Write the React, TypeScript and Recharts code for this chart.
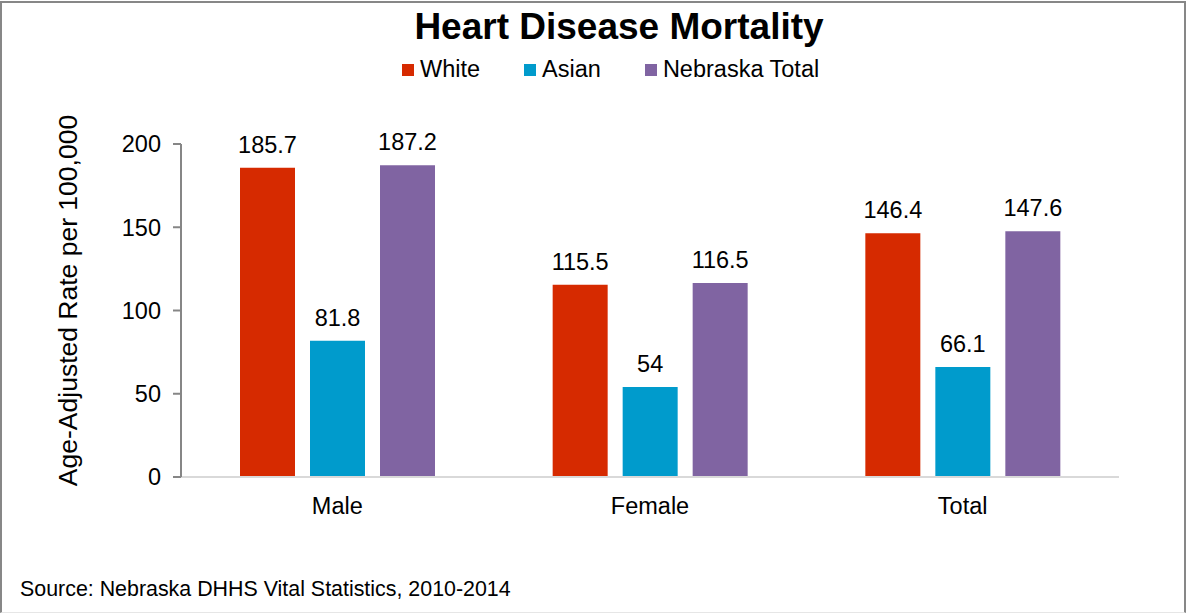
import { Bar, BarChart, LabelList, Legend, XAxis, YAxis } from "recharts";

const categories = ["Male", "Female", "Total"];
const seriesNames = ["White", "Asian", "Nebraska Total"];
const whiteRates = [185.7, 115.5, 146.4];
const asianRates = [81.8, 54, 66.1];
const nebraskaRates = [187.2, 116.5, 147.6];
const yTicks = [0, 50, 100, 150, 200];

const data = categories.map((name, i) => ({
  name,
  white: whiteRates[i],
  asian: asianRates[i],
  nebraska: nebraskaRates[i],
}));

const FONT = '"Liberation Sans", Arial, sans-serif';
const LABEL_SIZE = 23.5;

function LegendContent({ payload }: any) {
  const items = [...(payload || [])].sort(
    (a: any, b: any) => seriesNames.indexOf(a.value) - seriesNames.indexOf(b.value)
  );
  return (
    <div
      style={{
        display: "flex",
        alignItems: "center",
        fontFamily: FONT,
        fontSize: LABEL_SIZE,
        color: "#000",
        whiteSpace: "nowrap",
      }}
    >
      {items.map((p: any, i: number) => (
        <div
          key={p.value}
          style={{ display: "flex", alignItems: "center", marginRight: i < items.length - 1 ? 44 : 0 }}
        >
          <span style={{ display: "inline-block", width: 12, height: 12, background: p.color, marginRight: 6 }} />
          <span>{p.value}</span>
        </div>
      ))}
    </div>
  );
}

function YLabel(props: any) {
  const vb = props.viewBox || { x: 0, y: 0, width: 0, height: 0 };
  const cx = vb.x + 77;
  const cy = vb.y + vb.height / 2 - 10;
  return (
    <text
      x={cx}
      y={cy}
      transform={`rotate(-90 ${cx} ${cy})`}
      textAnchor="middle"
      fontFamily={FONT}
      fontSize={26.5}
      fill="#000"
    >
      Age-Adjusted Rate per 100,000
    </text>
  );
}

export default function App() {
  const tickStyle = { fill: "#000", fontSize: LABEL_SIZE, fontFamily: FONT };
  return (
    <div style={{ position: "absolute", left: 0, top: 0, width: 1187, height: 614, background: "#fff" }}>
      <div
        style={{
          position: "absolute",
          left: 319,
          top: 8,
          width: 600,
          textAlign: "center",
          fontFamily: FONT,
          fontWeight: "bold",
          fontSize: 37,
          lineHeight: "37px",
          color: "#000",
          whiteSpace: "nowrap",
        }}
      >
        Heart Disease Mortality
      </div>
      <BarChart
        width={1187}
        height={614}
        data={data}
        margin={{ top: 144, right: 68, bottom: 97, left: 0 }}
        barSize={55}
        barGap={15}
      >
        <XAxis
          dataKey="name"
          height={40}
          axisLine={{ stroke: "#d9d9d9", strokeWidth: 2 }}
          tickLine={false}
          tickSize={8}
          tickMargin={12}
          tick={tickStyle}
        />
        <YAxis
          width={181}
          domain={[0, 200]}
          ticks={yTicks}
          axisLine={{ stroke: "#868686", strokeWidth: 2 }}
          tickLine={{ stroke: "#868686", strokeWidth: 2 }}
          tickSize={8}
          tickMargin={12}
          tick={tickStyle}
          label={{ value: "Age-Adjusted Rate per 100,000", content: (p: any) => <YLabel {...p} /> }}
        />
        <Legend
          layout="horizontal"
          verticalAlign="middle"
          content={<LegendContent />}
          wrapperStyle={{ top: 56, left: 402, width: "auto" }}
        />
        <Bar dataKey="white" name="White" fill="#d62a00" isAnimationActive={false}>
          <LabelList dataKey="white" position="top" offset={15} fill="#000" fontSize={LABEL_SIZE} fontFamily={FONT} />
        </Bar>
        <Bar dataKey="asian" name="Asian" fill="#009bcc" isAnimationActive={false}>
          <LabelList dataKey="asian" position="top" offset={15} fill="#000" fontSize={LABEL_SIZE} fontFamily={FONT} />
        </Bar>
        <Bar dataKey="nebraska" name="Nebraska Total" fill="#8064a2" isAnimationActive={false}>
          <LabelList dataKey="nebraska" position="top" offset={15} fill="#000" fontSize={LABEL_SIZE} fontFamily={FONT} />
        </Bar>
      </BarChart>
      <div
        style={{
          position: "absolute",
          left: 20,
          top: 579,
          fontFamily: FONT,
          fontSize: 21.4,
          lineHeight: "21px",
          color: "#000",
          whiteSpace: "nowrap",
        }}
      >
        Source: Nebraska DHHS Vital Statistics, 2010-2014
      </div>
      <div
        style={{
          position: "absolute",
          left: 0,
          top: 1,
          width: 1186,
          height: 612,
          boxSizing: "border-box",
          borderLeft: "2px solid #878787",
          borderTop: "2px solid #878787",
          borderRight: "2px solid #878787",
          borderBottom: "1px solid #e6e6e6",
          pointerEvents: "none",
        }}
      />
    </div>
  );
}
